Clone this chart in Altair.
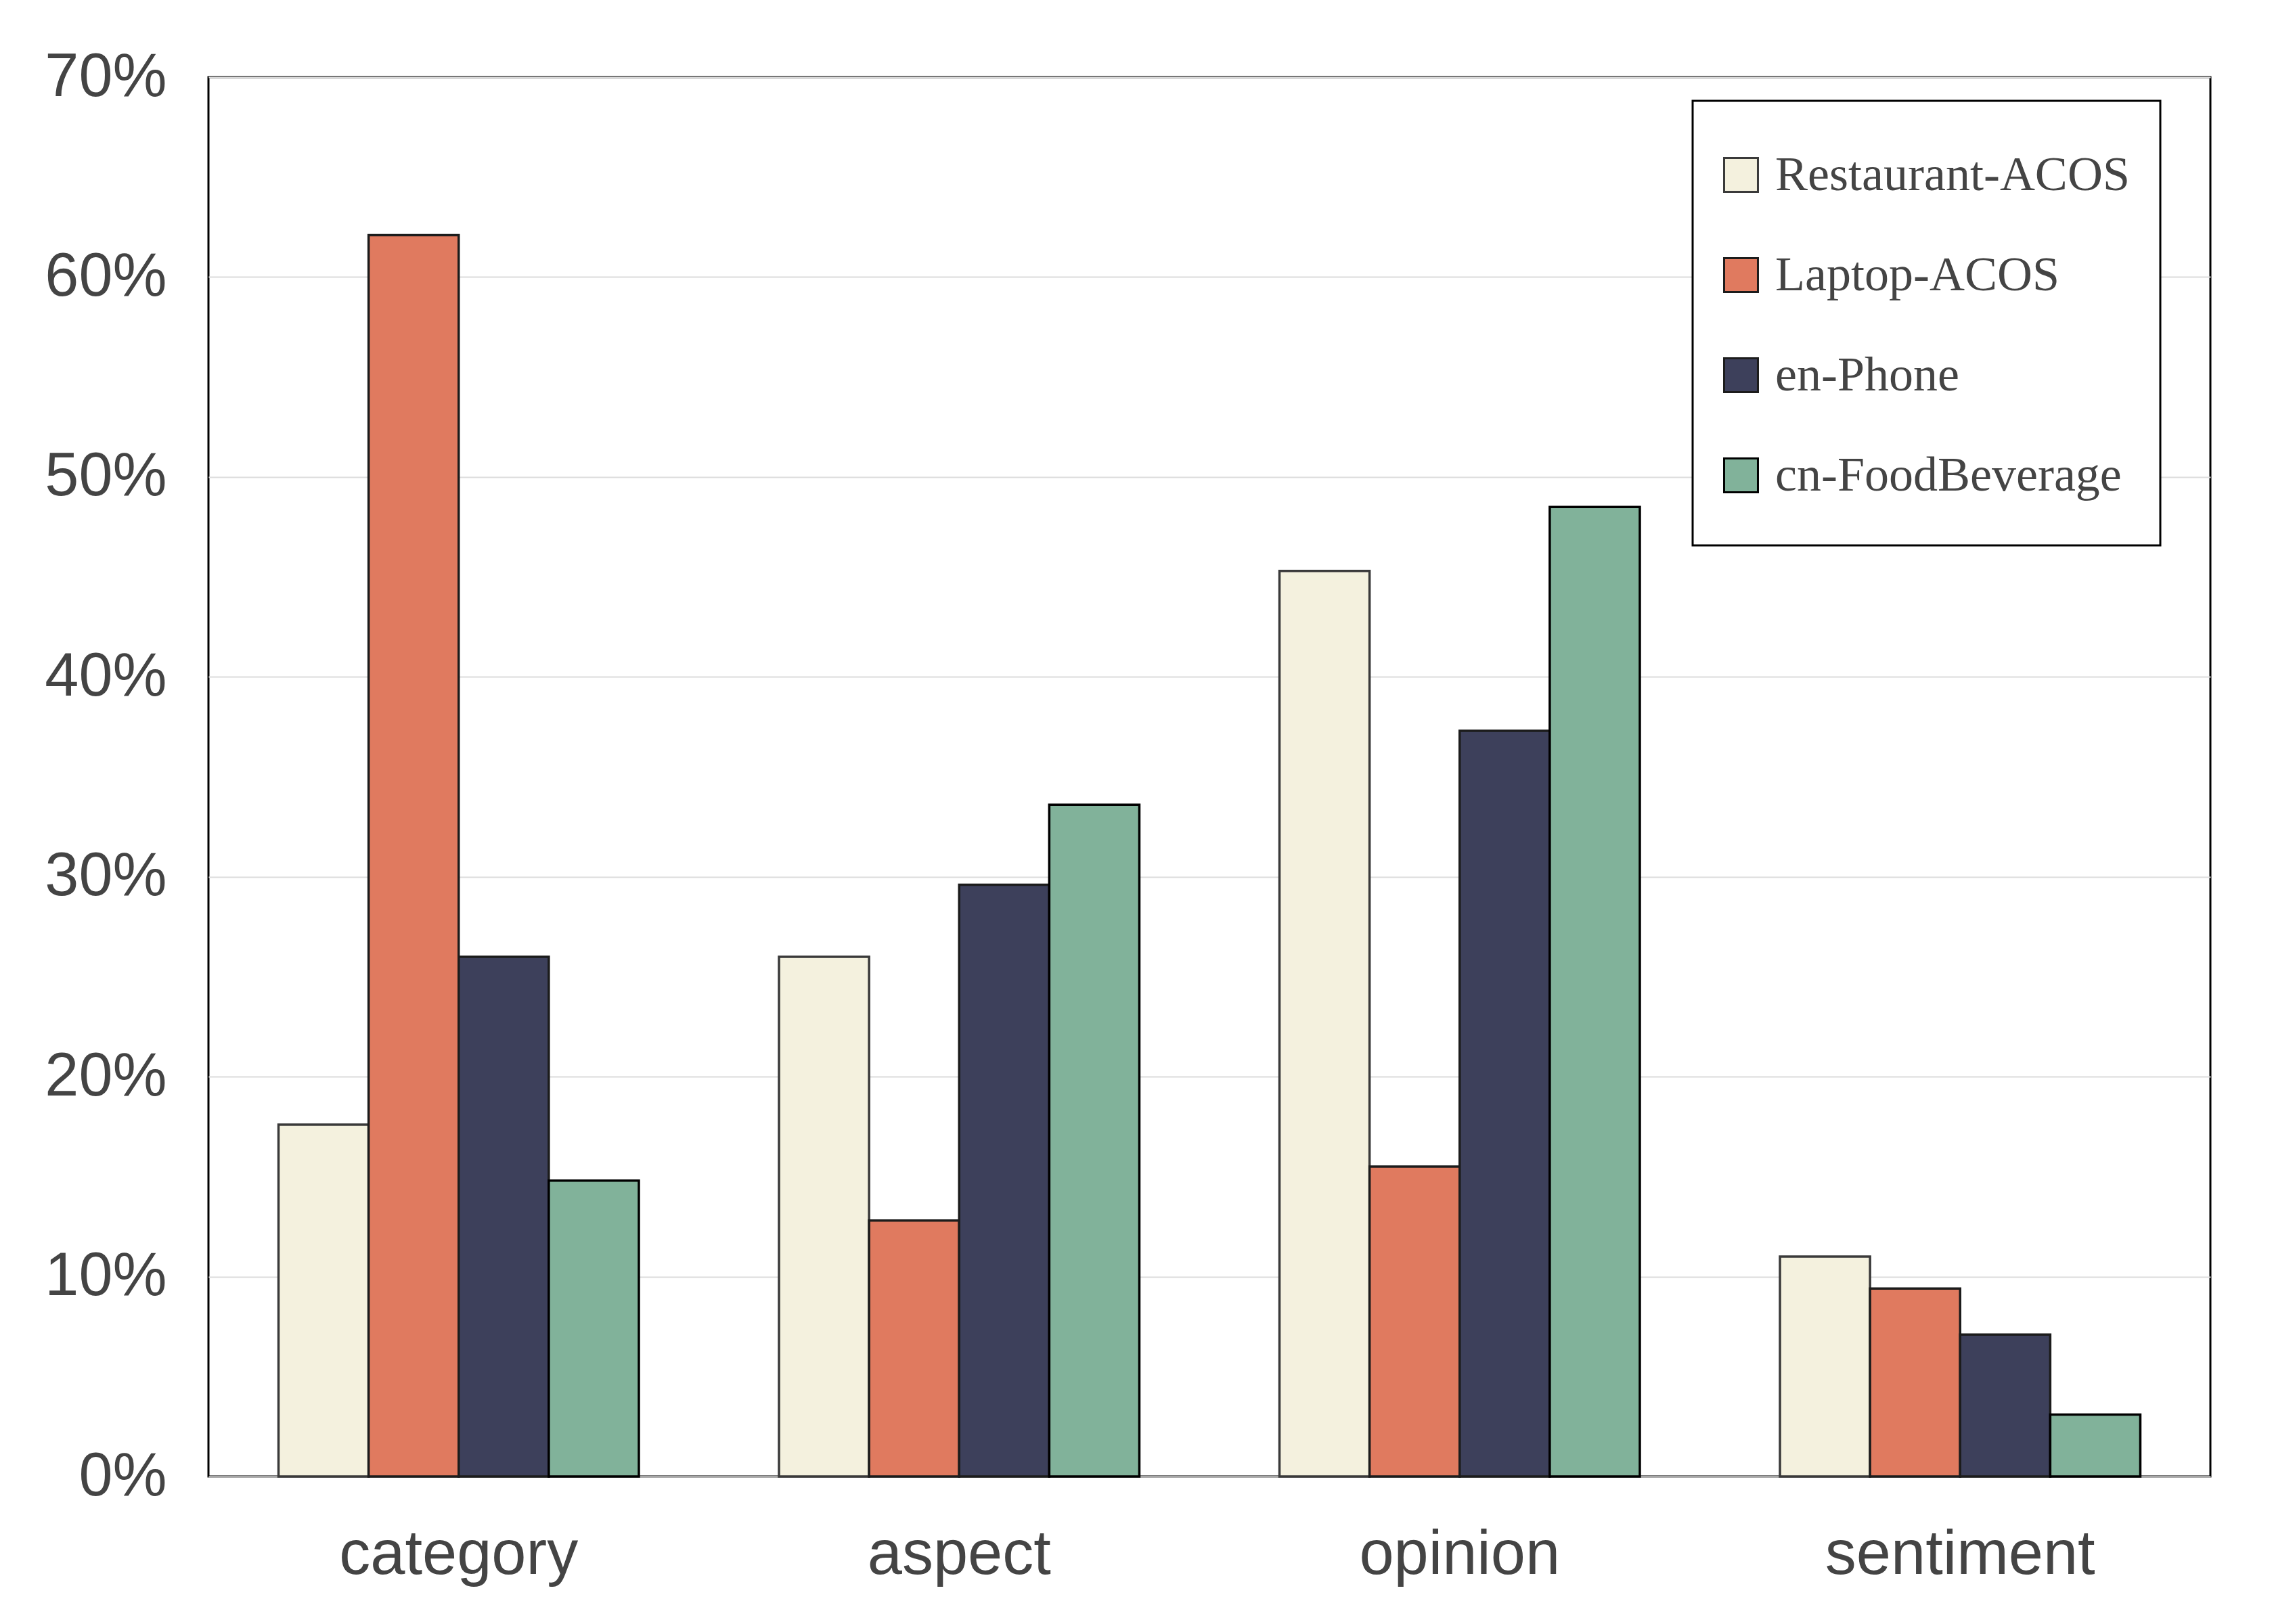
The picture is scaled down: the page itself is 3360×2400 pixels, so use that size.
import altair as alt
import pandas as pd

tasks = ["category", "aspect", "opinion", "sentiment"]
series = ["Restaurant-ACOS", "Laptop-ACOS", "en-Phone", "cn-FoodBeverage"]
colors = ["#F4F1DE", "#E07A5F", "#3D405B", "#81B29A"]
strokes = ["#3a3a3a", "#1c1c1c", "#1c1c1c", "#000000"]

restaurant = [17.6, 26.0, 45.3, 11.0]
laptop = [62.1, 12.8, 15.5, 9.4]
phone = [26.0, 29.6, 37.3, 7.1]
food = [14.8, 33.6, 48.5, 3.1]

values = {
    "Restaurant-ACOS": restaurant,
    "Laptop-ACOS": laptop,
    "en-Phone": phone,
    "cn-FoodBeverage": food,
}

rows = []
for s in series:
    for t, v in zip(tasks, values[s]):
        rows.append({"task": t, "series": s, "value": v / 100.0})
df = pd.DataFrame(rows)

# legend swatch: square at the left of the symbol cell, extra space below
swatch = "M-1,-0.676H0.351V0.676H-1ZM0,1.405"

chart = (
    alt.Chart(df)
    .mark_bar(strokeWidth=3.5)
    .encode(
        x=alt.X(
            "task:N",
            sort=tasks,
            scale=alt.Scale(paddingInner=0.28, paddingOuter=0.14),
            axis=alt.Axis(
                title=None,
                labelAngle=0,
                ticks=False,
                domain=False,
                grid=False,
                labelFontSize=92,
                labelFont="Liberation Sans",
                labelColor="#444444",
                labelPadding=70,
                labelLimit=2000,
            ),
        ),
        xOffset=alt.XOffset(
            "series:N", sort=series, scale=alt.Scale(paddingInner=0, paddingOuter=0)
        ),
        y=alt.Y(
            "value:Q",
            scale=alt.Scale(domain=[0, 0.7], nice=False),
            axis=alt.Axis(
                title=None,
                format=".0%",
                values=[0, 0.1, 0.2, 0.3, 0.4, 0.5, 0.6, 0.7],
                ticks=False,
                domain=False,
                grid=True,
                gridColor="#dcdcdc",
                gridWidth=2,
                labelFontSize=90,
                labelFont="Liberation Sans",
                labelColor="#444444",
                labelPadding=62,
                labelLimit=2000,
            ),
        ),
        color=alt.Color(
            "series:N",
            sort=series,
            scale=alt.Scale(domain=series, range=colors),
            legend=alt.Legend(
                title=" ",
                titleFontSize=10,
                titlePadding=16,
                orient="none",
                legendX=2193,
                legendY=35,
                symbolType=swatch,
                symbolSize=5476,
                symbolStrokeWidth=3,
                labelFont="Liberation Serif",
                labelFontSize=72,
                labelColor="#444444",
                labelOffset=0,
                rowPadding=51,
                padding=45,
                strokeColor="black",
                fillColor="white",
                labelLimit=2000,
            ),
        ),
        stroke=alt.Stroke(
            "series:N",
            sort=series,
            scale=alt.Scale(domain=series, range=strokes),
            legend=None,
        ),
    )
    .properties(
        width=2958,
        height=2068,
        background="white",
        autosize=alt.AutoSizeParams(type="none"),
        padding={"left": 300, "top": 106, "right": 86, "bottom": 210},
    )
    .configure_view(stroke="black", strokeWidth=3)
    .configure_legend(strokeWidth=3)
)

chart.save("out.html", embed_options={"renderer": "svg", "actions": False})
